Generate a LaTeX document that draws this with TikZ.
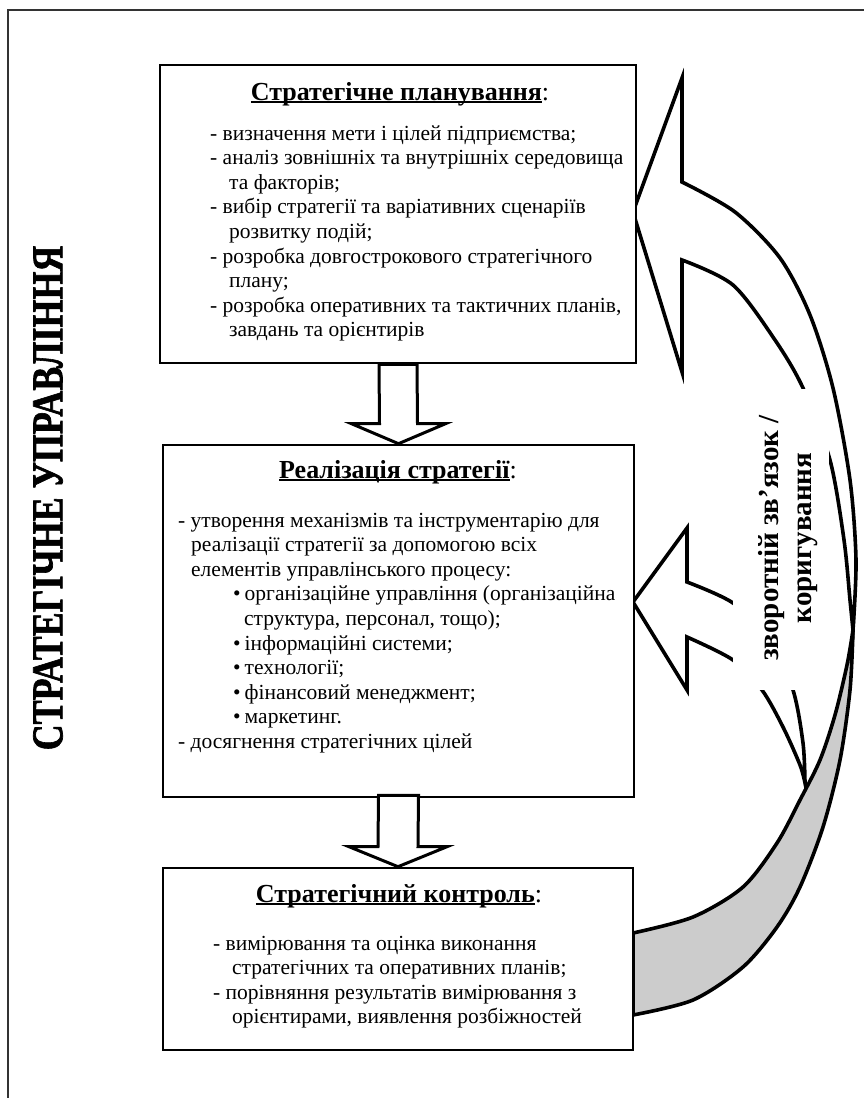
\documentclass[tikz,border=0pt]{standalone}
\usepackage{fontspec}
\usepackage{graphicx}
\setmainfont{Liberation Serif}
\newfontfamily\heavyfont[FakeBold=1.6]{Liberation Serif Bold}
\usetikzlibrary{calc}
\newsavebox\hdbox
\newcommand{\hdul}[1]{\sbox\hdbox{#1}\rlap{\rule[-2.8pt]{\wd\hdbox}{1.8pt}}\usebox\hdbox}
\newcommand{\bul}{\hspace*{55pt}•\hspace*{4pt}}
\begin{document}
\begin{tikzpicture}[x=1pt,y=-1pt,
  box/.style={draw, line width=2.6pt, inner sep=0pt, fill=white},
  blockarrow/.style={draw, line width=3pt, fill=white, line join=miter},
  curvearrow/.style={draw, line width=3.6pt, line join=miter, miter limit=20},
  bodytext/.style={anchor=base west, inner sep=0pt, font=\fontsize{21.5}{24.6}\selectfont},
  headtext/.style={anchor=base, inner sep=0pt, font=\fontsize{26}{30}\selectfont},
  frameline/.style={line width=1.5pt, black!80}]
\useasboundingbox (0,0) rectangle (864,1098);
\fill[white] (0,0) rectangle (864,1098);
% frame
\coordinate (fbl) at (8,1098);
\coordinate (ftl) at (8,10);
\coordinate (ftr) at (864,10);
\draw[frameline] (fbl) -- (ftl) -- (ftr);

% small curved arrow (to middle box)
\filldraw[curvearrow, fill=white] (633,602) -- (687,528) -- (687,582)
  -- plot[smooth] coordinates {(687,582) (733,603) (770,640) (793,690) (803,743) (805,783)}
  -- plot[smooth] coordinates {(805,783) (800,765) (783,727) (762,690) (733,660) (687,637)}
  -- (687,690) -- cycle;
% big curved arrow: back (grey) part
\filldraw[curvearrow, fill=black!20] (853,630)
  -- plot[smooth] coordinates {(853,630) (850,690) (840,760) (823,827) (800,887) (777,927) (743,967) (693,1000) (633,1015)}
  -- (633,933)
  -- plot[smooth] coordinates {(633,933) (693,917) (743,887) (777,843) (800,800) (820,760) (835,715) (847,665) (853,630)}
  -- cycle;
% big curved arrow: front part
\filldraw[curvearrow, fill=white] (633,212) -- (682,78) -- (682,182)
  -- plot[smooth] coordinates {(682,182) (735,212) (780,258) (810,315) (833,388) (850,480) (856,560) (853,630)}
  -- plot[smooth] coordinates {(853,630) (850,600) (844,540) (830,460) (803,388) (775,340) (733,285) (682,260)}
  -- (682,372) -- cycle;

% feedback label
\node[fill=white, inner sep=0pt, minimum width=96pt, minimum height=301pt] (fbbg) at (781,539.5) {};
\node[rotate=90, align=center, inner sep=0pt, font=\bfseries\fontsize{29}{33}\selectfont] (fb) at (788,538)
  {зворотній зв’язок /\\коригування};

% title
\node[rotate=90, inner sep=0pt, font=\heavyfont\fontsize{44}{50}\selectfont] (title) at (48,498)
  {\scalebox{0.816}[1]{СТРАТЕГІЧНЕ УПРАВЛІННЯ}};

% boxes
\node[box, minimum width=476pt, minimum height=298pt] (plan) at (398,214) {};
\node[box, minimum width=471pt, minimum height=352pt] (real) at (398.5,621) {};
\node[box, minimum width=470pt, minimum height=182pt] (ctrl) at (398,959) {};

% block arrows
\draw[blockarrow] ($(plan.south)+(-19,0)$) -- ($(plan.south)+(19,0)$) -- ($(real.north)+(19,-20)$)
  -- ($(real.north)+(47,-20)$) -- (real.north) -- ($(real.north)+(-47,-20)$) -- ($(real.north)+(-19,-20)$) -- cycle;
\draw[blockarrow] ($(real.south)+(-20,-3)$) -- ($(real.south)+(20,-3)$) -- ($(ctrl.north)+(20,-20)$)
  -- ($(ctrl.north)+(49,-20)$) -- (ctrl.north) -- ($(ctrl.north)+(-49,-20)$) -- ($(ctrl.north)+(-20,-20)$) -- cycle;

% top box text
\node[headtext] (planhead) at (400,100) {\hdul{\textbf{Стратегічне планування}}:};
\node[bodytext] (plantext) at (210,140) {\begin{tabular}[t]{@{}l@{}}
- визначення мети і цілей підприємства;\\
- аналіз зовнішніх та внутрішніх середовища\\
\hspace*{19pt}та факторів;\\
- вибір стратегії та варіативних сценаріїв\\
\hspace*{19pt}розвитку подій;\\
- розробка довгострокового стратегічного\\
\hspace*{19pt}плану;\\
- розробка оперативних та тактичних планів,\\
\hspace*{19pt}завдань та орієнтирів
\end{tabular}};

% middle box text
\node[headtext] (realhead) at (398,478) {\hdul{\textbf{Реалізація стратегії}}:};
\node[bodytext] (realtext) at (178,527) {\begin{tabular}[t]{@{}l@{}}
- утворення механізмів та інструментарію для\\
\hspace*{13pt}реалізації стратегії за допомогою всіх\\
\hspace*{13pt}елементів управлінського процесу:\\
\bul організаційне управління (організаційна\\
\hspace*{66pt}структура, персонал, тощо);\\
\bul інформаційні системи;\\
\bul технології;\\
\bul фінансовий менеджмент;\\
\bul маркетинг.\\
- досягнення стратегічних цілей
\end{tabular}};

% bottom box text
\node[headtext] (ctrlhead) at (399,902) {\hdul{\textbf{Стратегічний контроль}}:};
\node[bodytext] (ctrltext) at (213,950) {\begin{tabular}[t]{@{}l@{}}
- вимірювання та оцінка виконання\\
\hspace*{19pt}стратегічних та оперативних планів;\\
- порівняння результатів вимірювання з\\
\hspace*{19pt}орієнтирами, виявлення розбіжностей
\end{tabular}};
\end{tikzpicture}
\end{document}
